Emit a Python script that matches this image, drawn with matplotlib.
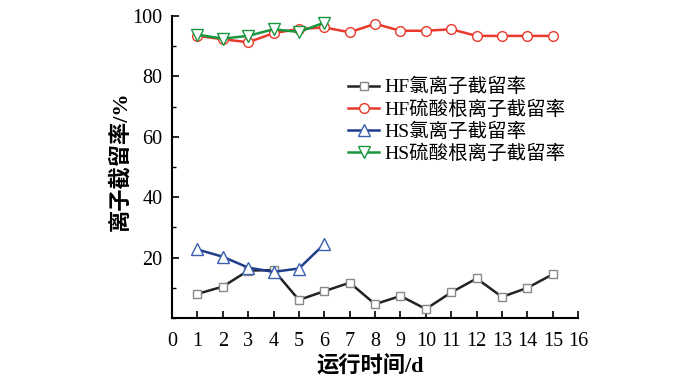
import matplotlib
matplotlib.use("Agg")
import matplotlib.pyplot as plt
from matplotlib.ticker import MultipleLocator

days_hf = list(range(1, 16))
days_hs = list(range(1, 7))
hf_cl = [8, 10.4, 15.7, 15.9, 6, 8.9, 11.7, 4.6, 7.3, 3, 8.5, 13.1, 7, 10, 14.5]
hf_so4 = [93.4, 92.3, 91.3, 94.3, 95.7, 96.2, 94.6, 97.4, 95.1, 95.1, 95.6, 93.4, 93.4, 93.4, 93.4]
hs_cl = [22.7, 20.3, 16.7, 15.3, 16.4, 24.5]
hs_so4 = [93.8, 92.5, 93.4, 95.6, 94.7, 97.8]

labels = ["HF氯离子截留率", "HF硫酸根离子截留率", "HS氯离子截留率", "HS硫酸根离子截留率"]

plt.rcParams['font.family'] = ['Liberation Serif', 'Noto Sans CJK SC']
plt.rcParams['font.size'] = 14.5

fig = plt.figure(figsize=(7, 3.8), dpi=100)
ax = fig.add_axes([0.2457, 0.163, 0.5803, 0.795])

ax.plot(days_hf, hf_cl, color='#222222', lw=1.8, marker='s', ms=6,
        mfc='white', mec='#888888', mew=1.0, label=labels[0], zorder=3)
ax.plot(days_hf, hf_so4, color='#e8392b', lw=1.8, marker='o', ms=7,
        mfc='white', mec='#e8392b', mew=1.0, label=labels[1], zorder=3)
ax.plot(days_hs, hs_cl, color='#1f3d8a', lw=1.8, marker='^', ms=8,
        mfc='white', mec='#3a5fb0', mew=1.0, label=labels[2], zorder=4)
ax.plot(days_hs, hs_so4, color='#1a9641', lw=1.8, marker='v', ms=8,
        mfc='white', mec='#1a9641', mew=1.0, label=labels[3], zorder=4)

ax.set_xlim(0, 16)
ax.set_ylim(0, 100)
ax.set_xticks(range(0, 17))
ax.set_yticks([20, 40, 60, 80, 100])
ax.yaxis.set_minor_locator(MultipleLocator(10))
ax.tick_params(direction='in', length=5, width=1.2)
ax.tick_params(axis='x', pad=10)
ax.tick_params(axis='y', pad=7)
ax.tick_params(which='minor', direction='in', length=3, width=1.0)
ax.spines['top'].set_visible(False)
ax.spines['right'].set_visible(False)
for s in ('left', 'bottom'):
    ax.spines[s].set_linewidth(1.5)

ax.set_xlabel('运行时间/d', fontweight='bold', fontsize=16)
ax.set_ylabel('离子截留率/%', fontweight='bold', fontsize=16)
ax.xaxis.set_label_coords(0.488, -0.125)
ax.yaxis.set_label_coords(-0.101, 0.52)

leg = ax.legend(loc='upper left', bbox_to_anchor=(0.415, 0.82), frameon=False,
                handlelength=1.6, handletextpad=0.25, labelspacing=0.2,
                borderaxespad=0, fontsize=14)

fig.savefig('out.png', dpi=100)
